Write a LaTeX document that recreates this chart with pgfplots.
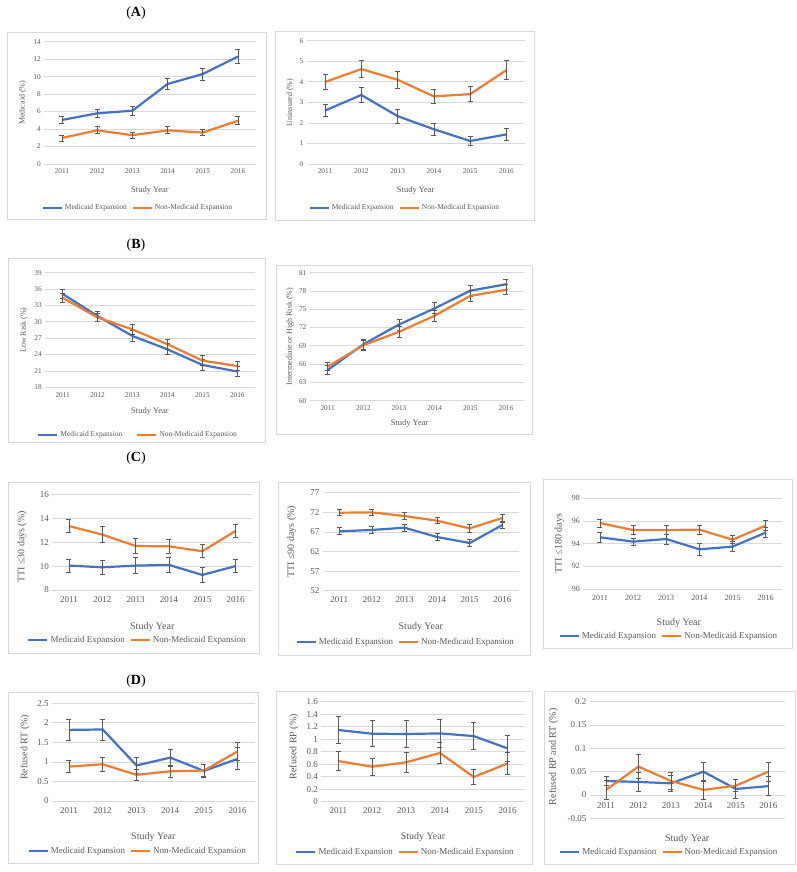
\documentclass[border=0pt]{standalone}
\usepackage{fontspec}
\setmainfont{Liberation Serif}
\usepackage{pgfplots}
\pgfplotsset{compat=1.18}
\definecolor{mblue}{HTML}{4472C4}
\definecolor{morange}{HTML}{ED7D31}
\definecolor{gridgray}{HTML}{D9D9D9}
\definecolor{tickgray}{HTML}{595959}
\definecolor{errgray}{HTML}{5A5A5A}
\definecolor{boxgray}{HTML}{D9D9D9}
\pgfplotsset{
 panel/.style={
  scale only axis, anchor=south west,
  xmin=2010.5, xmax=2016.5, xtick={2011,2012,2013,2014,2015,2016},
  xticklabels={2011,2012,2013,2014,2015,2016},
  ymajorgrids, grid style={gridgray, line width=0.8pt},
  axis line style={draw=none}, major tick length=0pt,
  tick label style={text=tickgray},
  /pgf/number format/assume math mode=true,
  xlabel={Study Year}, xlabel style={text=tickgray, anchor=center},
  ylabel style={text=tickgray, anchor=center},
  legend style={draw=none, fill=none, legend columns=2, anchor=center, text=tickgray, inner sep=0pt},
  legend cell align=left,
  legend image code/.code={\draw[##1] (0pt,0pt) -- (19pt,0pt);},
  error bars/y dir=both, error bars/y explicit,
  error bars/error bar style={errgray, line width=0.8pt},
  error bars/error mark options={errgray, line width=0.8pt, mark size=2.5pt, rotate=90},
  clip=false,
 },
 fAB/.style={tick label style={font=\fontsize{7.3}{8}\selectfont},
   xticklabel style={yshift=-1.5pt},
   xlabel style={font=\fontsize{8.5}{10}\selectfont},
   ylabel style={font=\fontsize{8}{9}\selectfont},
   legend style={font=\fontsize{7.5}{9}\selectfont}},
 fCD/.style={tick label style={font=\fontsize{9}{10}\selectfont},
   xticklabel style={yshift=-2.5pt},
   xlabel style={font=\fontsize{10}{12}\selectfont},
   ylabel style={font=\fontsize{10}{12}\selectfont},
   legend style={font=\fontsize{9}{11}\selectfont}},
 me/.style={mblue, line width=2.2pt},
 nm/.style={morange, line width=2.2pt},
}
\begin{document}
\begin{tikzpicture}
\useasboundingbox (0,0) rectangle (797pt,-872pt);
% panel frames
\draw[boxgray, line width=0.8pt] (7pt,-32pt) rectangle (266pt,-219pt);
\draw[boxgray, line width=0.8pt] (275pt,-31pt) rectangle (534pt,-220pt);
\draw[boxgray, line width=0.8pt] (8pt,-258pt) rectangle (265pt,-442pt);
\draw[boxgray, line width=0.8pt] (276pt,-265pt) rectangle (532pt,-434pt);
\draw[boxgray, line width=0.8pt] (8pt,-482pt) rectangle (259pt,-653pt);
\draw[boxgray, line width=0.8pt] (278pt,-482pt) rectangle (530pt,-655pt);
\draw[boxgray, line width=0.8pt] (543pt,-479pt) rectangle (792pt,-648pt);
\draw[boxgray, line width=0.8pt] (8pt,-692pt) rectangle (258pt,-863pt);
\draw[boxgray, line width=0.8pt] (276pt,-691pt) rectangle (532pt,-864pt);
\draw[boxgray, line width=0.8pt] (544pt,-691pt) rectangle (795pt,-864pt);
% section titles
\node[font=\fontsize{14}{16}\selectfont] at (136pt,-13pt) {(\textbf{A})};
\node[font=\fontsize{14}{16}\selectfont] at (136pt,-245pt) {(\textbf{B})};
\node[font=\fontsize{14}{16}\selectfont] at (136pt,-458pt) {(\textbf{C})};
\node[font=\fontsize{14}{16}\selectfont] at (136pt,-681pt) {(\textbf{D})};

% ---------- A1 ----------
\begin{axis}[panel, fAB, at={(44.4pt,-164pt)}, width=211.2pt, height=122.3pt,
  ymin=0, ymax=14, ytick={0,2,...,14}, ylabel={Medicaid (\%)},
  ylabel style={at={(axis description cs:-0.103,0.5)}},
  xlabel style={at={(axis description cs:0.5,-0.213)}},
  legend style={at={(axis description cs:0.443,-0.36)}, /tikz/every even column/.append style={column sep=3pt}}]
\addplot[me] coordinates {(2011,5.04) +- (0,0.42) (2012,5.8) +- (0,0.48) (2013,6.1) +- (0,0.5) (2014,9.16) +- (0,0.6) (2015,10.3) +- (0,0.7) (2016,12.3) +- (0,0.8)};
\addplot[nm] coordinates {(2011,2.98) +- (0,0.35) (2012,3.85) +- (0,0.4) (2013,3.3) +- (0,0.35) (2014,3.85) +- (0,0.4) (2015,3.6) +- (0,0.35) (2016,4.96) +- (0,0.45)};
\legend{Medicaid Expansion, Non-Medicaid Expansion}
\end{axis}

% ---------- A2 ----------
\begin{axis}[panel, fAB, at={(306.85pt,-164pt)}, width=217.8pt, height=123.3pt,
  ymin=0, ymax=6, ytick={0,1,...,6}, ylabel={Uninsured (\%)},
  ylabel style={at={(axis description cs:-0.077,0.5)}},
  xlabel style={at={(axis description cs:0.5,-0.213)}},
  legend style={at={(axis description cs:0.45,-0.356)}, /tikz/every even column/.append style={column sep=3pt}}]
\addplot[me] coordinates {(2011,2.6) +- (0,0.3) (2012,3.36) +- (0,0.38) (2013,2.33) +- (0,0.33) (2014,1.69) +- (0,0.28) (2015,1.12) +- (0,0.22) (2016,1.44) +- (0,0.28)};
\addplot[nm] coordinates {(2011,3.99) +- (0,0.36) (2012,4.62) +- (0,0.4) (2013,4.1) +- (0,0.4) (2014,3.29) +- (0,0.36) (2015,3.4) +- (0,0.36) (2016,4.57) +- (0,0.47)};
\legend{Medicaid Expansion, Non-Medicaid Expansion}
\end{axis}

% ---------- B1 ----------
\begin{axis}[panel, fAB, at={(45.2pt,-387.3pt)}, width=209.6pt, height=114.6pt,
  ymin=18, ymax=39, ytick={18,21,...,39}, ylabel={Low Risk (\%)},
  ylabel style={at={(axis description cs:-0.101,0.5)}},
  xlabel style={at={(axis description cs:0.5,-0.207)}},
  legend style={at={(axis description cs:0.443,-0.415)}, /tikz/every even column/.append style={column sep=12pt}}]
\addplot[me] coordinates {(2011,35.1) +- (0,0.9) (2012,31.06) +- (0,0.9) (2013,27.4) +- (0,1.0) (2014,24.96) +- (0,1.0) (2015,22.1) +- (0,1.0) (2016,20.9) +- (0,0.9)};
\addplot[nm] coordinates {(2011,34.4) +- (0,0.8) (2012,30.8) +- (0,0.8) (2013,28.6) +- (0,0.9) (2014,25.9) +- (0,0.9) (2015,22.9) +- (0,0.9) (2016,21.9) +- (0,0.8)};
\legend{Medicaid Expansion, Non-Medicaid Expansion}
\end{axis}

% ---------- B2 ----------
\begin{axis}[panel, fAB, at={(309.9pt,-400.7pt)}, width=213.9pt, height=128pt,
  ymin=60, ymax=81, ytick={60,63,...,81}, ylabel={Intermediate or High Risk (\%)},
  ylabel style={at={(axis description cs:-0.093,0.5)}},
  xlabel style={at={(axis description cs:0.466,-0.174)}}]
\addplot[me] coordinates {(2011,65.04) +- (0,0.8) (2012,69.25) +- (0,0.8) (2013,72.5) +- (0,0.9) (2014,75.15) +- (0,0.9) (2015,78.05) +- (0,0.9) (2016,79.1) +- (0,0.8)};
\addplot[nm] coordinates {(2011,65.6) +- (0,0.7) (2012,69.1) +- (0,0.8) (2013,71.3) +- (0,0.9) (2014,73.95) +- (0,0.9) (2015,77.2) +- (0,0.9) (2016,78.2) +- (0,0.8)};
\end{axis}

% ---------- C1 ----------
\begin{axis}[panel, fCD, at={(52.3pt,-590pt)}, width=200pt, height=95.7pt,
  ymin=8, ymax=16, ytick={8,10,...,16}, ylabel={TTI ≤30 days (\%)},
  ylabel style={at={(axis description cs:-0.152,0.45)}},
  xlabel style={at={(axis description cs:0.5,-0.383)}},
  legend style={at={(axis description cs:0.426,-0.526)}, /tikz/every even column/.append style={column sep=3pt}}]
\addplot[me] coordinates {(2011,10.04) +- (0,0.55) (2012,9.9) +- (0,0.6) (2013,10.04) +- (0,0.65) (2014,10.1) +- (0,0.65) (2015,9.26) +- (0,0.6) (2016,10.0) +- (0,0.55)};
\addplot[nm] coordinates {(2011,13.35) +- (0,0.55) (2012,12.63) +- (0,0.65) (2013,11.68) +- (0,0.6) (2014,11.65) +- (0,0.6) (2015,11.24) +- (0,0.55) (2016,12.94) +- (0,0.55)};
\legend{Medicaid Expansion, Non-Medicaid Expansion}
\end{axis}

% ---------- C2 ----------
\begin{axis}[panel, fCD, at={(323pt,-590.7pt)}, width=195.6pt, height=98pt,
  ymin=52, ymax=77, ytick={52,57,...,77}, ylabel={TTI ≤90 days (\%)},
  ylabel style={at={(axis description cs:-0.16,0.5)}},
  xlabel style={at={(axis description cs:0.5,-0.367)}},
  legend style={at={(axis description cs:0.423,-0.52)}, /tikz/every even column/.append style={column sep=3pt}}]
\addplot[me] coordinates {(2011,67.14) +- (0,0.9) (2012,67.5) +- (0,0.9) (2013,68.07) +- (0,0.9) (2014,65.7) +- (0,0.9) (2015,64.16) +- (0,0.9) (2016,68.75) +- (0,0.9)};
\addplot[nm] coordinates {(2011,71.9) +- (0,0.8) (2012,71.98) +- (0,0.8) (2013,71.05) +- (0,0.8) (2014,69.86) +- (0,0.8) (2015,67.9) +- (0,0.9) (2016,70.54) +- (0,1.0)};
\legend{Medicaid Expansion, Non-Medicaid Expansion}
\end{axis}

% ---------- C3 ----------
\begin{axis}[panel, fCD, tick label style={font=\fontsize{8}{9}\selectfont},
  at={(583.4pt,-589pt)}, width=198.8pt, height=90.7pt,
  ymin=90, ymax=98, ytick={90,92,...,98}, ylabel={TTI ≤180 days},
  ylabel style={at={(axis description cs:-0.121,0.5)}},
  xlabel style={at={(axis description cs:0.48,-0.378)}},
  legend style={at={(axis description cs:0.43,-0.518)}, /tikz/every even column/.append style={column sep=3pt}}]
\addplot[me] coordinates {(2011,94.56) +- (0,0.42) (2012,94.18) +- (0,0.3) (2013,94.41) +- (0,0.45) (2014,93.5) +- (0,0.5) (2015,93.74) +- (0,0.45) (2016,94.97) +- (0,0.45)};
\addplot[nm] coordinates {(2011,95.82) +- (0,0.35) (2012,95.2) +- (0,0.4) (2013,95.2) +- (0,0.4) (2014,95.24) +- (0,0.4) (2015,94.35) +- (0,0.35) (2016,95.59) +- (0,0.45)};
\legend{Medicaid Expansion, Non-Medicaid Expansion}
\end{axis}

% ---------- D1 ----------
\begin{axis}[panel, fCD, at={(52.1pt,-801pt)}, width=202.5pt, height=97.7pt,
  ymin=0, ymax=2.5, ytick={0,0.5,...,2.5}, ylabel={Refused RT (\%)},
  ylabel style={at={(axis description cs:-0.134,0.55)}},
  xlabel style={at={(axis description cs:0.5,-0.372)}},
  legend style={at={(axis description cs:0.423,-0.515)}, /tikz/every even column/.append style={column sep=3pt}}]
\addplot[me] coordinates {(2011,1.82) +- (0,0.26) (2012,1.83) +- (0,0.27) (2013,0.91) +- (0,0.2) (2014,1.11) +- (0,0.22) (2015,0.77) +- (0,0.17) (2016,1.08) +- (0,0.28)};
\addplot[nm] coordinates {(2011,0.88) +- (0,0.16) (2012,0.94) +- (0,0.18) (2013,0.67) +- (0,0.15) (2014,0.76) +- (0,0.16) (2015,0.78) +- (0,0.16) (2016,1.27) +- (0,0.24)};
\legend{Medicaid Expansion, Non-Medicaid Expansion}
\end{axis}

% ---------- D2 ----------
\begin{axis}[panel, fCD, at={(321.4pt,-801.7pt)}, width=203.2pt, height=100pt,
  ymin=0, ymax=1.6, ytick={0,0.2,...,1.6}, ylabel={Refused RP (\%)},
  ylabel style={at={(axis description cs:-0.135,0.55)}},
  xlabel style={at={(axis description cs:0.5,-0.35)}},
  legend style={at={(axis description cs:0.414,-0.506)}, /tikz/every even column/.append style={column sep=3pt}}]
\addplot[me] coordinates {(2011,1.147) +- (0,0.21) (2012,1.088) +- (0,0.21) (2013,1.083) +- (0,0.21) (2014,1.093) +- (0,0.22) (2015,1.05) +- (0,0.22) (2016,0.853) +- (0,0.21)};
\addplot[nm] coordinates {(2011,0.65) +- (0,0.15) (2012,0.56) +- (0,0.14) (2013,0.63) +- (0,0.16) (2014,0.78) +- (0,0.17) (2015,0.395) +- (0,0.12) (2016,0.613) +- (0,0.17)};
\legend{Medicaid Expansion, Non-Medicaid Expansion}
\end{axis}

% ---------- D3 ----------
\begin{axis}[panel, fCD, at={(589.8pt,-818.3pt)}, width=194.7pt, height=116.6pt,
  axis x line=middle, axis y line=left, axis line style={draw=none},
  ymin=-0.05, ymax=0.2, ytick={-0.05,0,0.05,0.1,0.15,0.2},
  yticklabels={-0.05,0,0.05,0.1,0.15,0.2},
  ylabel={Refused RP and RT (\%)},
  ylabel style={at={(axis description cs:-0.1875,0.528)}},
  xticklabel style={yshift=-1pt},
  xlabel style={at={(axis description cs:0.5,-0.18)}, anchor=center, text=tickgray, font=\fontsize{10}{12}\selectfont},
  legend style={at={(axis description cs:0.408,-0.289)}, /tikz/every even column/.append style={column sep=3pt}}]
\addplot[me] coordinates {(2011,0.03) +- (0,0.01) (2012,0.028) +- (0,0.02) (2013,0.025) +- (0,0.018) (2014,0.05) +- (0,0.02) (2015,0.013) +- (0,0.02) (2016,0.019) +- (0,0.02)};
\addplot[nm] coordinates {(2011,0.011) +- (0,0.02) (2012,0.061) +- (0,0.025) (2013,0.03) +- (0,0.018) (2014,0.011) +- (0,0.02) (2015,0.02) +- (0,0.013) (2016,0.05) +- (0,0.02)};
\legend{Medicaid Expansion, Non-Medicaid Expansion}
\end{axis}
\end{tikzpicture}
\end{document}
